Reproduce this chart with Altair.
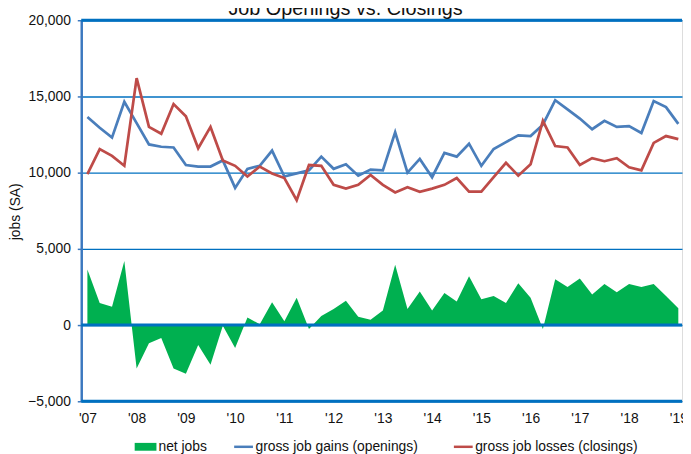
import json
import altair as alt
import pandas as pd

# ---- data (quarterly, 2007Q1 .. 2019Q1) ----
quarters = list(range(49))
year_labels = ["'07", "'08", "'09", "'10", "'11", "'12", "'13",
               "'14", "'15", "'16", "'17", "'18", "'19"]

gains = [13650, 12950, 12300, 14650, 13250, 11850, 11700, 11650, 10500, 10400,
         10400, 10800, 9000, 10250, 10450, 11450, 9750, 9950, 10150, 11050,
         10250, 10550, 9800, 10200, 10150, 12650, 10000, 10900, 9700, 11300,
         11050, 11900, 10450, 11550, 12000, 12450, 12400, 13150, 14750, 14150,
         13550, 12850, 13400, 13000, 13050, 12600, 14700, 14300, 13200]

losses = [9900, 11550, 11100, 10450, 16200, 13000, 12550, 14500, 13700, 11600,
          13000, 10800, 10450, 9750, 10400, 9950, 9650, 8200, 10500, 10450,
          9200, 8950, 9200, 9850, 9200, 8700, 9050, 8750, 8950, 9200,
          9650, 8750, 8750, 9700, 10650, 9800, 10550, 13400, 11750, 11650,
          10500, 10950, 10750, 10950, 10350, 10150, 11950, 12400, 12200]

net = [3650, 1450, 1200, 4200, -2850, -1200, -850, -2850, -3200, -1300,
       -2600, -50, -1500, 500, 50, 1500, 250, 1800, -250, 600,
       1050, 1600, 550, 350, 950, 3950, 1050, 2200, 950, 2100,
       1550, 3200, 1700, 1900, 1450, 2750, 1800, -250, 3000, 2500,
       3050, 2000, 2700, 2150, 2700, 2500, 2700, 1900, 1100]

y_ticks = [-5000, 0, 5000, 10000, 15000, 20000]
frame_levels = [20000, 0, -5000]
title_text = ["Job Openings vs. Closings"]

s_net = "net jobs"
s_gain = "gross job gains (openings)"
s_loss = "gross job losses (closings)"

FONT = "Liberation Sans"
TXT = "#111111"
BLUE_GRID = "#0070C0"

df_lines = pd.DataFrame({
    "q": quarters * 2,
    "value": gains + losses,
    "series": [s_gain] * len(gains) + [s_loss] * len(losses),
})
df_net = pd.DataFrame({"q": quarters, "value": net, "series": [s_net] * len(net)})
df_frame = pd.DataFrame({"value": frame_levels})
df_title = pd.DataFrame({"t": title_text})

label_expr = "[" + ",".join(json.dumps(s) for s in year_labels) + "][round(datum.value / 4)]"

x_enc = alt.X(
    "q:Q",
    scale=alt.Scale(domain=[-0.5, 48.3], nice=False, zero=False),
    axis=alt.Axis(values=list(range(0, 49, 4)), labelExpr=label_expr, title=None,
                  grid=False, ticks=False, domain=False, labelFlush=False,
                  labelPadding=10, labelFontSize=14, labelFont=FONT,
                  labelColor=TXT, labelOverlap=False),
)

y_scale = alt.Scale(domain=[-5000, 20000], nice=False, zero=False)
y_axis = alt.Axis(values=y_ticks, format=",.0f", title="jobs (SA)",
                  grid=True, gridColor=BLUE_GRID, gridWidth=1.4,
                  domainColor="#3B78BF", domainWidth=2.5,
                  tickColor="#3B78BF", tickSize=4, tickWidth=1.5,
                  labelPadding=7, labelFontSize=14, labelFont=FONT, labelColor=TXT,
                  titleFont=FONT, titleFontSize=14, titleFontWeight="normal",
                  titleColor=TXT, titleX=-66, titleY=193, titleBaseline="middle",
                  titleAlign="center")

area = alt.Chart(df_net).mark_area(interpolate="linear", opacity=1).encode(
    x=x_enc,
    y=alt.Y("value:Q", scale=y_scale, axis=y_axis, stack=None),
    y2=alt.datum(0),
    fill=alt.Fill("series:N",
                  scale=alt.Scale(domain=[s_net], range=["#00B050"]),
                  legend=alt.Legend(orient="none", legendX=54, legendY=420,
                                    title=None, padding=0,
                                    symbolType="M-1,-0.36H1V0.36H-1Z",
                                    symbolSize=484, symbolStrokeWidth=0,
                                    symbolOpacity=1,
                                    labelOffset=2, labelFontSize=14,
                                    labelFont=FONT, labelColor=TXT)),
)

lines = alt.Chart(df_lines).mark_line(strokeWidth=2.75, interpolate="linear").encode(
    x=x_enc,
    y=alt.Y("value:Q", scale=y_scale, axis=y_axis),
    stroke=alt.Stroke("series:N",
                      scale=alt.Scale(domain=[s_gain, s_loss],
                                      range=["#4A7EBB", "#BE4B48"]),
                      legend=alt.Legend(orient="none", direction="horizontal",
                                        legendX=153, legendY=420, title=None,
                                        padding=0, symbolType="stroke",
                                        symbolSize=361, symbolStrokeWidth=2.5,
                                        labelOffset=1, columnPadding=30,
                                        labelFontSize=14, labelFont=FONT,
                                        labelColor=TXT, labelLimit=400)),
)

frame = alt.Chart(df_frame).mark_rule(color=BLUE_GRID, strokeWidth=3).encode(
    y=alt.Y("value:Q", scale=y_scale, axis=y_axis),
)

title = alt.Chart(df_title).mark_text(
    font=FONT, fontSize=20, color=TXT, baseline="alphabetic", align="center"
).encode(text="t:N", x=alt.value(267), y=alt.value(-5))

chart = alt.layer(area, lines, frame, title).properties(
    width=607,
    height=385,
    autosize=alt.AutoSizeParams(type="none"),
    padding={"left": 74, "top": 10, "right": 1, "bottom": 60},
).configure_view(stroke="#9DC3E6", strokeWidth=1.5).configure(background="white")

chart.save("out.html", embed_options={"renderer": "svg", "actions": False})
